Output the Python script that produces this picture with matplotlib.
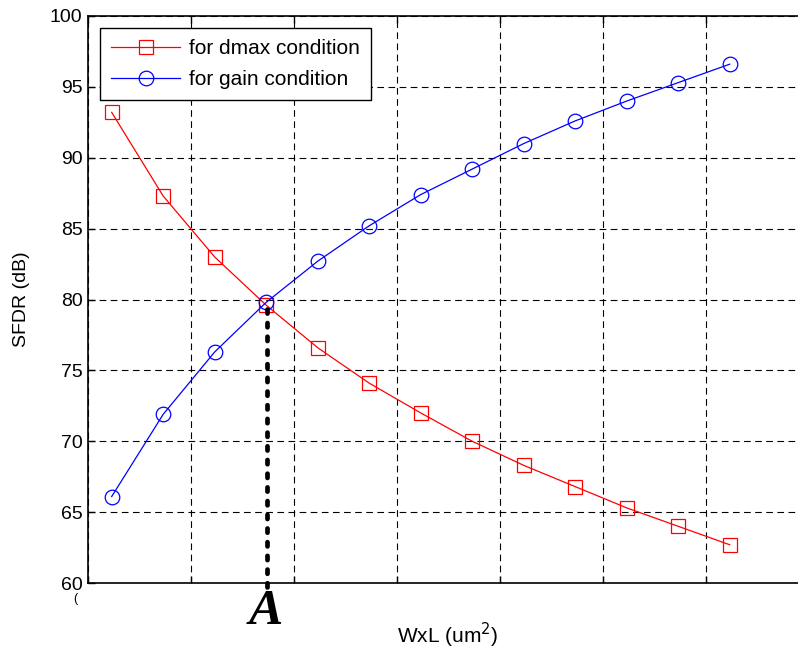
import matplotlib
matplotlib.use("Agg")
import matplotlib.pyplot as plt
import numpy as np

plt.rcParams['font.family'] = ['Liberation Sans', 'DejaVu Sans']

# Data
x_vals = [0.23, 0.73, 1.23, 1.73, 2.23, 2.73, 3.23, 3.73, 4.23, 4.73, 5.23, 5.73, 6.23]
sfdr_dmax = [93.2, 87.3, 83.0, 79.6, 76.6, 74.1, 72.0, 70.0, 68.3, 66.8, 65.3, 64.0, 62.7]
sfdr_gain = [66.1, 71.9, 76.3, 79.8, 82.7, 85.2, 87.4, 89.2, 91.0, 92.6, 94.0, 95.3, 96.6]
x_ticks = [0, 1, 2, 3, 4, 5, 6, 7]
y_ticks = [60, 65, 70, 75, 80, 85, 90, 95, 100]
point_A_x = 1.74
point_A_y = 79.7

W, H = 798, 653
fig = plt.figure(figsize=(W / 100, H / 100), dpi=100)
L, R, T, B = 88, 809, 16, 583
ax = fig.add_axes([L / W, 1 - B / H, (R - L) / W, (B - T) / H])

ax.plot(x_vals, sfdr_dmax, color='red', lw=0.9, marker='s', markersize=10.5,
        markerfacecolor='none', markeredgecolor='red', markeredgewidth=0.9,
        label='for dmax condition')
ax.plot(x_vals, sfdr_gain, color='blue', lw=0.9, marker='o', markersize=10.5,
        markerfacecolor='none', markeredgecolor='blue', markeredgewidth=0.9,
        label='for gain condition')

ax.plot([point_A_x, point_A_x], [59.7, point_A_y - 0.4], color='black', lw=3.4,
        linestyle=(0, (0.9, 2.0)), dash_capstyle='round', clip_on=False, zorder=5)

ax.set_xlim(0, 7)
ax.set_ylim(60, 100)
ax.set_xticks(x_ticks)
ax.set_xticklabels([''] * len(x_ticks))
ax.set_yticks(y_ticks)
ax.tick_params(axis='both', direction='in', length=5, width=1, top=True, right=True,
               labelsize=14, pad=4)
ax.grid(True, color='black', linestyle=(0, (6, 4)), lw=0.8)
for s in ax.spines.values():
    s.set_linewidth(1.2)

fig.text(448 / W, 1 - 635 / H, 'WxL (um$^2$)', fontsize=15, ha='center', va='center')
ax.set_ylabel('SFDR (dB)', fontsize=14, labelpad=14)

leg = ax.legend(loc='upper left', bbox_to_anchor=((100 - L) / (R - L), (B - 28) / (B - T)),
                borderaxespad=0, fontsize=15, handlelength=3.3, fancybox=False,
                edgecolor='black', framealpha=1, borderpad=0.55, labelspacing=0.55,
                handletextpad=0.4)
leg.get_frame().set_linewidth(1.0)

fig.text(266 / W, 1 - 612 / H, 'A', fontsize=37, family='Liberation Serif',
         style='italic', weight='bold', ha='center', va='center')
fig.text(75 / W, 1 - 599 / H, '(', fontsize=9, ha='center', va='center')

fig.savefig('out.png', dpi=100)
